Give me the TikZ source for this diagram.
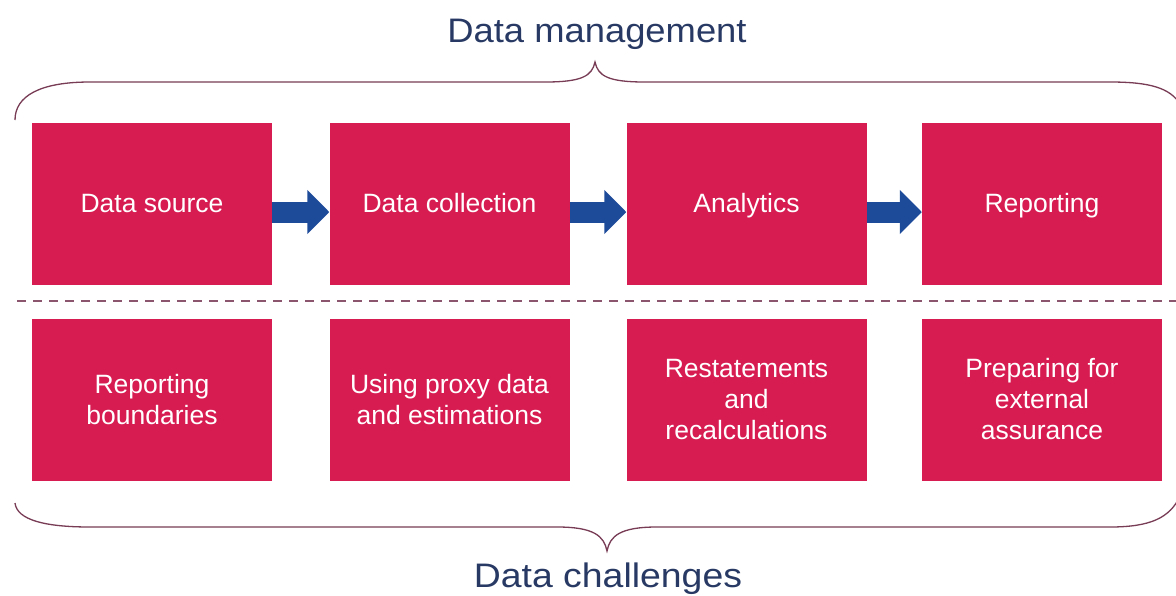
\documentclass[tikz,border=0pt]{standalone}
\usepackage{fontspec}
\setmainfont{Liberation Sans}
\usetikzlibrary{arrows.meta}
\definecolor{boxred}{RGB}{215,28,82}
\definecolor{arrowblue}{RGB}{30,74,154}
\definecolor{titleblue}{RGB}{40,58,100}
\definecolor{bracecol}{RGB}{120,60,85}
\definecolor{dashcol}{RGB}{140,85,110}
\tikzset{
  stagebox/.style={rectangle, fill=boxred, draw=none, minimum width=240pt, minimum height=162pt,
    text=white, align=center, font=\fontsize{26.5}{31}\selectfont, inner sep=0pt},
  toprow/.style={stagebox, text height=2.0em, text depth=0.22em},
  flowarrow/.style={arrowblue, line width=21pt, -{Triangle[length=22pt,width=43pt]}},
  bracepath/.style={bracecol, line width=1.3pt},
  heading/.style={text=titleblue, font=\fontsize{34}{40}\selectfont, inner sep=0pt}
}
\begin{document}
\begin{tikzpicture}[x=1pt,y=-1pt]
\useasboundingbox[fill=white] (0,0) rectangle (1176,595);
% top row
\node[toprow] (b1) at (152,204) {Data source};
\node[toprow] (b2) at (449.5,204) {Data collection};
\node[toprow] (b3) at (746.5,204) {Analytics};
\node[toprow] (b4) at (1042,204) {Reporting};
% bottom row
\node[stagebox] (c1) at (152,399.5) {Reporting\\boundaries};
\node[stagebox] (c2) at (449.5,399.5) {Using proxy data\\and estimations};
\node[stagebox] (c3) at (746.5,399.5) {Restatements\\and\\recalculations};
\node[stagebox] (c4) at (1042,399.5) {Preparing for\\external\\assurance};
% arrows
\draw[flowarrow] ([yshift=-8pt]b1.east) -- ([yshift=-8pt]b2.west);
\draw[flowarrow] ([yshift=-8pt]b2.east) -- ([yshift=-8pt]b3.west);
\draw[flowarrow] ([yshift=-8pt]b3.east) -- ([yshift=-8pt]b4.west);
% dashed separator
\coordinate (dL) at (17,301);
\coordinate (dR) at (1176,301);
\draw[dashcol, line width=2.5pt, dash pattern=on 9pt off 7pt] (dL) -- (dR);
% headings
\node[heading] (t1) at (597,34) {\scalebox{1.07}[1]{Data management}};
\node[heading] (t2) at (608,579) {\scalebox{1.1}[1]{Data challenges}};
% top brace
\draw[bracepath] (15,120) .. controls (15,96) and (40,82) .. (90,82) -- (545,82)
  .. controls (582,82) and (592,76) .. (595,62)
  .. controls (598,76) and (608,82) .. (645,82) -- (1110,82)
  .. controls (1150,82) and (1170,88) .. (1180,104);
% bottom brace
\draw[bracepath] (15,503) .. controls (17,520) and (45,527) .. (90,527) -- (557,527)
  .. controls (594,527) and (604,536) .. (607,551)
  .. controls (610,536) and (620,527) .. (657,527) -- (1110,527)
  .. controls (1150,527) and (1170,518) .. (1180,496);
\end{tikzpicture}
\end{document}
